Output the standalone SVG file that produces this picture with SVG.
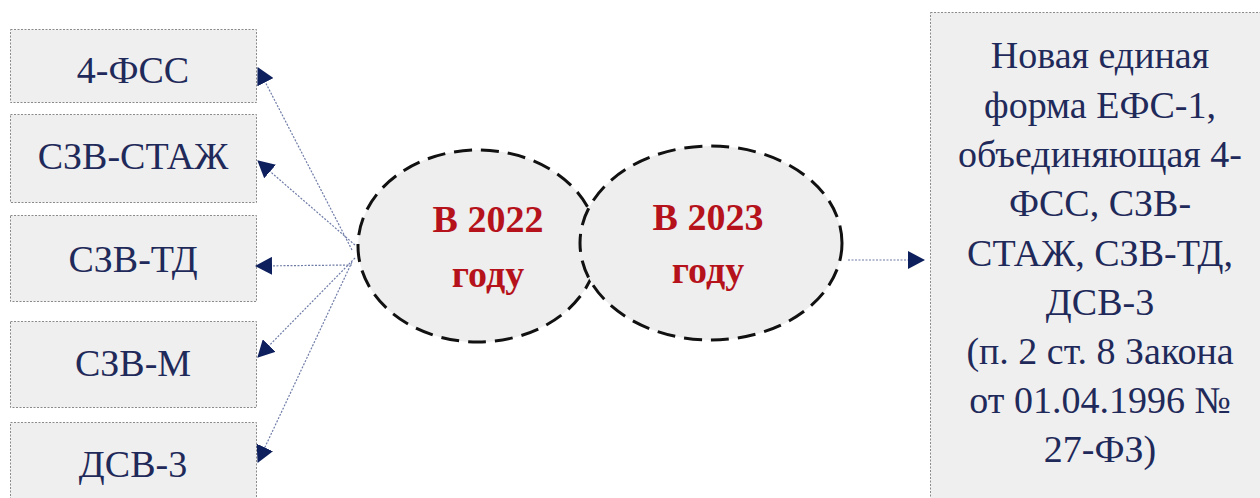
<svg xmlns="http://www.w3.org/2000/svg" width="1260" height="498" viewBox="0 0 1260 498">
<style>
.box{fill:#efefef;stroke:#8a8a8a;stroke-width:1;stroke-dasharray:2,1.5}
.ell{fill:#eeeeee;stroke:#111;stroke-width:3;stroke-dasharray:18,9}
.c{fill:none;stroke:#6f7ca8;stroke-width:1.2;stroke-dasharray:2,1.5}
</style>
<defs>
<marker id="ah" viewBox="0 0 17 18" refX="16" refY="9" markerWidth="17" markerHeight="18" markerUnits="userSpaceOnUse" orient="auto">
<path d="M0,0 L17,9 L0,18 z" fill="#0d1f5c"/>
</marker>
</defs>
<rect width="1260" height="498" fill="#ffffff"/>
<g id="n1"><rect class="box" x="10.5" y="29.5" width="246" height="73"/><text x="133" y="83" font-family="Liberation Serif, Times New Roman, serif" font-size="38" font-weight="normal" fill="#1f2a5a" text-anchor="middle">4-ФСС</text></g>
<g id="n2"><rect class="box" x="10.5" y="114.5" width="246" height="88"/><text x="133" y="169" font-family="Liberation Serif, Times New Roman, serif" font-size="38" font-weight="normal" fill="#1f2a5a" text-anchor="middle">СЗВ-СТАЖ</text></g>
<g id="n3"><rect class="box" x="10.5" y="215.5" width="246" height="86"/><text x="133" y="272" font-family="Liberation Serif, Times New Roman, serif" font-size="38" font-weight="normal" fill="#1f2a5a" text-anchor="middle">СЗВ-ТД</text></g>
<g id="n4"><rect class="box" x="10.5" y="321.5" width="246" height="86"/><text x="133" y="376" font-family="Liberation Serif, Times New Roman, serif" font-size="38" font-weight="normal" fill="#1f2a5a" text-anchor="middle">СЗВ-М</text></g>
<g id="n5"><rect class="box" x="10.5" y="422.5" width="246" height="90"/><text x="133" y="477" font-family="Liberation Serif, Times New Roman, serif" font-size="38" font-weight="normal" fill="#1f2a5a" text-anchor="middle">ДСВ-3</text></g>
<g id="e1"><ellipse class="ell" cx="478" cy="246" rx="120" ry="96"/><text x="488" y="232" font-family="Liberation Serif, Times New Roman, serif" font-size="38" font-weight="bold" fill="#b5121b" text-anchor="middle">В 2022</text><text x="488" y="287" font-family="Liberation Serif, Times New Roman, serif" font-size="38" font-weight="bold" fill="#b5121b" text-anchor="middle">году</text></g>
<g id="e2"><ellipse class="ell" cx="711" cy="243" rx="131" ry="97"/><text x="708" y="230" font-family="Liberation Serif, Times New Roman, serif" font-size="38" font-weight="bold" fill="#b5121b" text-anchor="middle">В 2023</text><text x="708" y="283" font-family="Liberation Serif, Times New Roman, serif" font-size="38" font-weight="bold" fill="#b5121b" text-anchor="middle">году</text></g>
<g id="n6"><rect class="box" x="930.5" y="12.5" width="330" height="500"/>
<text x="1100" y="68" font-family="Liberation Serif, Times New Roman, serif" font-size="38" font-weight="normal" fill="#1f2a5a" text-anchor="middle">Новая единая</text>
<text x="1100" y="118" font-family="Liberation Serif, Times New Roman, serif" font-size="38" font-weight="normal" fill="#1f2a5a" text-anchor="middle">форма ЕФС-1,</text>
<text x="1100" y="167" font-family="Liberation Serif, Times New Roman, serif" font-size="38" font-weight="normal" fill="#1f2a5a" text-anchor="middle">объединяющая 4-</text>
<text x="1100" y="216" font-family="Liberation Serif, Times New Roman, serif" font-size="38" font-weight="normal" fill="#1f2a5a" text-anchor="middle">ФСС, СЗВ-</text>
<text x="1100" y="266" font-family="Liberation Serif, Times New Roman, serif" font-size="38" font-weight="normal" fill="#1f2a5a" text-anchor="middle">СТАЖ, СЗВ-ТД,</text>
<text x="1100" y="315" font-family="Liberation Serif, Times New Roman, serif" font-size="38" font-weight="normal" fill="#1f2a5a" text-anchor="middle">ДСВ-3</text>
<text x="1100" y="364" font-family="Liberation Serif, Times New Roman, serif" font-size="38" font-weight="normal" fill="#1f2a5a" text-anchor="middle">(п. 2 ст. 8 Закона</text>
<text x="1100" y="413" font-family="Liberation Serif, Times New Roman, serif" font-size="38" font-weight="normal" fill="#1f2a5a" text-anchor="middle">от 01.04.1996 №</text>
<text x="1100" y="462" font-family="Liberation Serif, Times New Roman, serif" font-size="38" font-weight="normal" fill="#1f2a5a" text-anchor="middle">27-ФЗ)</text>
</g>
<g id="connectors">
<path class="c" d="M352,250 L258,68" marker-end="url(#ah)"/>
<path class="c" d="M355,245 L258,161" marker-end="url(#ah)"/>
<path class="c" d="M352,265 L256,266" marker-end="url(#ah)"/>
<path class="c" d="M355,258 L258,357" marker-end="url(#ah)"/>
<path class="c" d="M352,262 L258,462" marker-end="url(#ah)"/>
<path class="c" d="M848,260 L924,260" marker-end="url(#ah)"/>
</g>
</svg>
